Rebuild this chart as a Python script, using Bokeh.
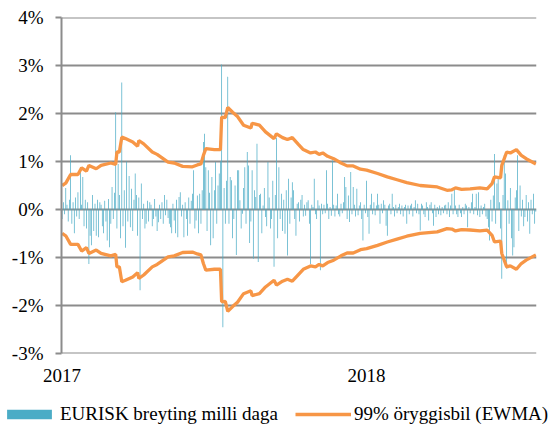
from bokeh.plotting import figure
from bokeh.layouts import column
from bokeh.models import Range1d, FixedTicker, Legend, LegendItem, ColumnDataSource
from bokeh.embed import file_html
from bokeh.resources import INLINE

# Daily EUR/ISK change, in basis points (hundredths of a percent), one per trading day from Jan 2017
change_bp = [
    -20, 15, -10, 45, 10, -25, 20, 113, -30, 15,
    -50, 25, -15, 36, -20, 88, 10, 68, -35, 20,
    -40, 15, -114, -55, -75, 30, -45, 12, -55, 20,
    -58, 15, 10, -35, -50, 18, -25, -65, 22, -79,
    -30, 47, -20, 35, 203, -40, 95, 30, -60, 265,
    -35, 40, -80, 100, -25, 70, -37, 43, -45, 20,
    75, 30, -55, 25, -169, 54, -20, 12, -40, -30,
    18, -25, 15, 10, -35, -20, 22, -15, -45, -27,
    10, -20, 15, -30, 30, -12, 20, -18, -30, -37,
    -50, 12, -23, -50, 20, -58, 26, 36, -15, 10,
    -58, 15, -20, -55, 25, -30, 18, 33, 82, -40,
    -23, 29, -50, 33, -30, 40, 141, 158, 88, -45,
    82, 35, -75, 68, -60, 40, 99, -30, 50, 75,
    100, 303, -246, 45, -30, 60, 277, -30, 68, 61,
    -60, -20, 50, -95, 82, 82, 19, -40, -9, 45,
    88, -30, 120, 92, -70, -25, 82, -103, 40, 26,
    137, -110, 30, 33, -50, 8, 45, -16, -35, 99,
    25, -40, -20, 60, -120, 30, 150, -60, 88, -20,
    33, -45, 20, -51, 40, -96, 64, -30, 25, 57,
    40, -20, -55, 12, 15, -25, 20, 30, -15, 10,
    -13, 15, 19, -30, -114, 10, 5, 64, -10, -20,
    19, 8, -127, 12, -10, 10, -8, 82, 12, -20,
    5, -13, 102, 10, -15, 8, 33, -10, -15, 12,
    -8, 15, 68, 47, -20, 29, -26, 78, -10, 47,
    10, -15, 43, -12, 8, 15, -20, -65, 10, -8,
    60, -16, -51, 10, 33, -10, 15, -12, 8, 33,
    10, -30, 12, -8, 19, 10, -34, -55, 8, 12,
    -10, 33, 5, -15, 10, -8, 5, 12, -10, 8,
    -15, 5, 10, -30, 8, -10, 8, 12, -15, 5,
    19, -8, 12, -10, -44, 12, 8, -10, -16, 15,
    5, -23, 10, 15, -8, -34, 10, -16, 5, -10,
    8, -12, 5, -8, 8, 10, -10, 15, -16, 8,
    33, -10, 43, 8, -10, -16, 10, -8, -16, 5,
    -10, 12, 8, -37, 5, -8, 15, 33, -10, 5,
    33, -12, 36, -16, 8, -10, 5, 12, -15, -20,
    -37, -65, 20, -25, 29, 116, -30, 54, 68, 15,
    -40, -145, 30, 113, 75, -124, 19, -30, 45, -60,
    -96, -79, 25, 40, 113, -45, 50, -15, 20, -35,
    -16, 30, -25, 15, -51, 20, -10, 33, -30, -5,
]

# 99% confidence band (EWMA), half-width in percent, at trading-day indices
band_day = [0, 3, 7, 13, 16, 20, 22, 28, 32, 40, 44, 45, 47, 49, 52, 58, 62, 63, 67, 74,
            78, 87, 92, 99, 107, 111, 114, 116, 118, 125, 130, 131, 134, 136, 140, 144, 149, 155, 156, 162,
            167, 174, 176, 181, 185, 189, 194, 198, 204, 208, 211, 214, 218, 223, 229, 234, 239, 245, 250, 259,
            267, 275, 283, 294, 308, 316, 320, 323, 328, 335, 343, 349, 353, 355, 360, 361, 365, 368, 373, 377,
            381, 389]
band_val = [0.50, 0.55, 0.73, 0.73, 0.87, 0.80, 0.92, 0.85, 0.92, 0.97, 0.94, 1.20, 1.20, 1.51, 1.48, 1.41, 1.32, 1.44, 1.37, 1.20,
            1.15, 0.99, 0.97, 0.90, 0.89, 0.93, 0.95, 1.13, 1.27, 1.25, 1.25, 1.93, 1.92, 2.13, 2.03, 1.94, 1.76, 1.70, 1.80, 1.76,
            1.62, 1.48, 1.58, 1.50, 1.46, 1.50, 1.36, 1.25, 1.18, 1.20, 1.15, 1.18, 1.11, 1.06, 0.97, 0.91, 0.91, 0.84, 0.82, 0.75,
            0.68, 0.62, 0.56, 0.50, 0.47, 0.40, 0.41, 0.45, 0.42, 0.43, 0.45, 0.43, 0.54, 0.68, 0.66, 0.92, 1.20, 1.18, 1.25, 1.13,
            1.06, 0.95]

year_ticks = [0, 250]
year_labels = ["2017", "2018"]
y_ticks = [-3, -2, -1, 0, 1, 2, 3, 4]
y_labels = ["-3%", "-2%", "-1%", "0%", "1%", "2%", "3%", "4%"]

bar_label = "EURISK breyting milli daga"
band_label = "99% öryggisbil (EWMA)"

BAR_COLOR = "#4bacc6"
LINE_COLOR = "#f79646"
GRID_COLOR = "#8c8c8c"
FONT = "Liberation Serif"

days = list(range(len(change_bp)))
chg = [v / 100 for v in change_bp]
src = ColumnDataSource(data=dict(day=days, chg=chg))
band_lower = [-v for v in band_val]

# ---- main chart ----
p = figure(width=548, height=401, output_backend="svg", toolbar_location=None,
           x_range=Range1d(-0.5, 389.5), y_range=Range1d(-3.01, 4.01),
           min_border_left=61, min_border_right=12, min_border_top=17, min_border_bottom=48)
p.outline_line_color = None
p.background_fill_color = "white"
p.border_fill_color = "white"

p.vbar(x="day", top="chg", width=0.6, source=src, fill_color=BAR_COLOR, line_color=None)
p.line(band_day, band_val, line_color=LINE_COLOR, line_width=3.3)
p.line(band_day, band_lower, line_color=LINE_COLOR, line_width=3.3)

p.xgrid.visible = False
p.ygrid.ticker = FixedTicker(ticks=y_ticks)
p.ygrid.grid_line_color = GRID_COLOR
p.ygrid.grid_line_width = 2

ya = p.yaxis[0]
ya.ticker = FixedTicker(ticks=y_ticks)
ya.major_label_overrides = {t: l for t, l in zip(y_ticks, y_labels)}
ya.axis_line_color = GRID_COLOR
ya.axis_line_width = 2
ya.major_tick_line_color = GRID_COLOR
ya.major_tick_line_width = 2
ya.major_tick_out = 6
ya.major_tick_in = 0
ya.minor_tick_line_color = None
ya.major_label_standoff = 12
ya.major_label_text_font = FONT
ya.major_label_text_font_size = "19px"
ya.major_label_text_color = "black"

xa = p.xaxis[0]
xa.ticker = FixedTicker(ticks=year_ticks)
xa.major_label_overrides = {t: l for t, l in zip(year_ticks, year_labels)}
xa.axis_line_color = None
xa.major_tick_line_color = None
xa.minor_tick_line_color = None
xa.major_tick_out = 0
xa.major_label_standoff = 15
xa.major_label_text_font = FONT
xa.major_label_text_font_size = "19px"
xa.major_label_text_color = "black"

# ---- legend strip (keys reuse the same data, kept outside this strip's visible ranges) ----
leg = figure(width=548, height=24, output_backend="svg", toolbar_location=None,
             x_range=Range1d(1000, 1001), y_range=Range1d(1000, 1001),
             x_axis_location=None, y_axis_location=None,
             min_border_left=0, min_border_right=0, min_border_top=0, min_border_bottom=0)
leg.outline_line_color = None
leg.xgrid.visible = False
leg.ygrid.visible = False
leg.background_fill_color = "white"
leg.border_fill_color = "white"

# let the legend strip use the full width instead of aligning to the chart frame
full_width = hasattr(leg, "frame_align")
if full_width:
    leg.frame_align = False
    p.frame_align = False

bar_key = leg.vbar(x="day", top="chg", width=0.6, source=src, fill_color=BAR_COLOR, line_color=None)
line_key = leg.line(band_day, band_val, line_color=LINE_COLOR, line_width=3.3)

legend = Legend(items=[LegendItem(label=bar_label, renderers=[bar_key]),
                       LegendItem(label=band_label, renderers=[line_key])],
                orientation="horizontal", location=(1, 0) if full_width else (-60, 0),
                glyph_width=56, glyph_height=12, label_standoff=3, spacing=17,
                padding=0, margin=0, border_line_color=None, background_fill_alpha=0,
                label_text_font=FONT, label_text_font_size="19px", label_text_color="black")
leg.add_layout(legend, "center")

layout = column(p, leg, spacing=0)
open("out.html", "w").write(file_html(layout, INLINE))
